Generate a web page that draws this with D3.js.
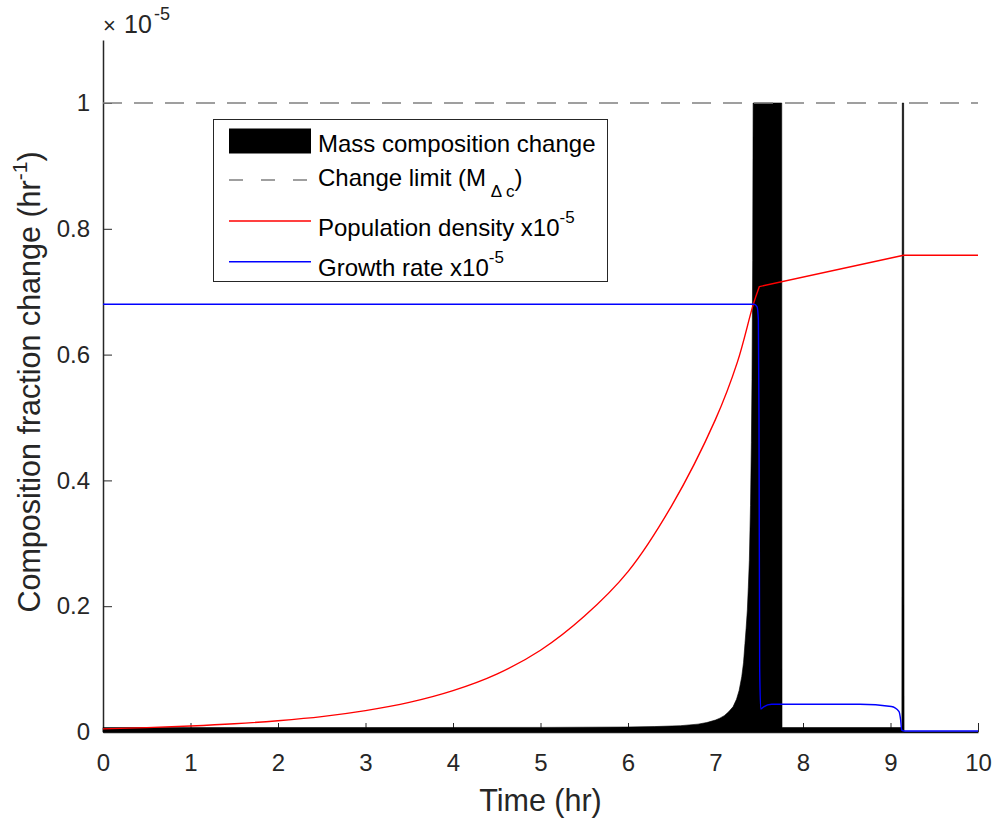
<!DOCTYPE html>
<html>
<head>
<meta charset="utf-8">
<script src="https://cdn.jsdelivr.net/npm/d3@7"></script>
<style>
  html, body { margin: 0; padding: 0; background: #fff; }
  svg { display: block; }
  text { font-family: "Liberation Sans", Arial, Helvetica, sans-serif; }
</style>
</head>
<body>
<svg id="chart" width="993" height="819"></svg>
<script>
// ---------- data (y values in units of 1e-5) ----------
const timeTicks = [0, 1, 2, 3, 4, 5, 6, 7, 8, 9, 10];
const yTicks = [0, 0.2, 0.4, 0.6, 0.8, 1];
const yTickLabels = ["0", "0.2", "0.4", "0.6", "0.8", "1"];

// Mass composition change (area)
const massT = [0, 1, 2, 3, 4, 5, 6, 6.3, 6.6, 6.8, 6.9, 7.0, 7.05, 7.1, 7.15, 7.2, 7.24, 7.27, 7.30, 7.32, 7.337, 7.35, 7.364, 7.375, 7.387, 7.40, 7.41, 7.417, 7.425, 7.43, 7.757, 7.76, 9.13, 9.135, 9.15, 9.155, 10];
const massV = [0.0070, 0.0070, 0.0071, 0.0071, 0.0072, 0.0073, 0.0079, 0.0086, 0.0100, 0.0125, 0.015, 0.019, 0.022, 0.026, 0.032, 0.040, 0.052, 0.066, 0.088, 0.110, 0.141, 0.165, 0.194, 0.230, 0.273, 0.36, 0.46, 0.56, 0.75, 1.0, 1.0, 0.0071, 0.0071, 1.0, 1.0, 0, 0];

// Change limit
const limitT = [0, 10];
const limitV = [1, 1];

// Population density x1e-5 (exponential phase, then linear phase)
const popT = [0, 0.5, 1, 1.5, 2, 2.5, 3, 3.5, 4, 4.5, 5, 5.5, 6, 6.5, 7, 7.25, 7.43, 7.50, 9.15, 10];
const popV = [0.0050, 0.0070, 0.0095, 0.0130, 0.0180, 0.0245, 0.034, 0.047, 0.0657, 0.092, 0.130, 0.184, 0.255, 0.360, 0.497, 0.588, 0.679, 0.708, 0.758, 0.758];
const popKnee = 7.50;

// Growth rate x1e-5
const growthT = [0, 7.44, 7.475, 7.49, 7.497, 7.505, 7.517, 7.55, 7.642, 8.65, 9.01, 9.097, 9.115, 9.128, 9.16, 10];
const growthV = [0.680, 0.680, 0.676, 0.655, 0.50, 0.10, 0.0366, 0.040, 0.044, 0.044, 0.0405, 0.0326, 0.020, 0.003, 0.0015, 0.0015];

const legendLabels = ["Mass composition change", "Change limit (M", "Population density x10", "Growth rate x10"];

// ---------- layout ----------
const svg = d3.select("#chart");
const x = d3.scaleLinear().domain([0, 10]).range([103, 978]);
const y = d3.scaleLinear().domain([0, 1.1]).range([732, 40.1]);
const axisColor = "#262626";
const font = '"Liberation Sans", Arial, Helvetica, sans-serif';

svg.append("defs").append("clipPath").attr("id", "plotclip")
  .append("rect").attr("x", x(0) - 1).attr("y", y(1.1)).attr("width", x(10) - x(0) + 2).attr("height", y(0) - y(1.1) + 1.5);

const zip = (ts, vs) => ts.map((t, i) => [t, vs[i]]);

// ---------- axes (drawn beneath data) ----------
const xAxis = svg.append("g")
  .attr("transform", `translate(0,${y(0)})`)
  .call(d3.axisBottom(x).tickValues(timeTicks).tickFormat(d3.format("d"))
    .tickSizeInner(-9).tickSizeOuter(0).tickPadding(22));
const yAxis = svg.append("g")
  .attr("transform", `translate(${x(0)},0)`)
  .call(d3.axisLeft(y).tickValues(yTicks).tickFormat((d, i) => yTickLabels[i])
    .tickSizeInner(-9).tickSizeOuter(0).tickPadding(13));

[xAxis, yAxis].forEach(g => {
  g.attr("font-family", font).attr("font-size", 24);
  g.select(".domain").attr("stroke", axisColor).attr("stroke-width", 1.5);
  g.selectAll(".tick line").attr("stroke", axisColor).attr("stroke-width", 1);
  g.selectAll(".tick text").attr("fill", axisColor);
});

const plot = svg.append("g").attr("clip-path", "url(#plotclip)");

// area
plot.append("path")
  .datum(zip(massT, massV))
  .attr("fill", "#000")
  .attr("stroke", "#000")
  .attr("stroke-width", 0.6)
  .attr("d", d3.area().x(d => x(d[0])).y0(y(0)).y1(d => y(d[1])));

// limit line
plot.append("path")
  .datum(zip(limitT, limitV))
  .attr("fill", "none")
  .attr("stroke", "#808080")
  .attr("stroke-width", 1.5)
  .attr("stroke-dasharray", "19,12")
  .attr("d", d3.line().x(d => x(d[0])).y(d => y(d[1])));

// population density: smooth growth phase + straight phase
const popData = zip(popT, popV);
const smoothPart = d3.line().x(d => x(d[0])).y(d => y(d[1])).curve(d3.curveCatmullRom.alpha(0.5))(popData.filter(d => d[0] <= popKnee));
const straightPart = d3.line().x(d => x(d[0])).y(d => y(d[1]))(popData.filter(d => d[0] >= popKnee));
plot.append("path")
  .attr("fill", "none").attr("stroke", "#ff0000").attr("stroke-width", 1.4)
  .attr("stroke-linejoin", "round")
  .attr("d", smoothPart + straightPart.replace(/^M/, "L"));

// growth rate
plot.append("path")
  .datum(zip(growthT, growthV))
  .attr("fill", "none")
  .attr("stroke", "#0000ff")
  .attr("stroke-width", 1.4)
  .attr("d", d3.line().x(d => x(d[0])).y(d => y(d[1])).curve(d3.curveMonotoneX));

// exponent
const expT = svg.append("text").attr("y", 33).attr("fill", axisColor).attr("font-size", 25);
expT.append("tspan").attr("x", 103).attr("font-size", 22).text("×");
expT.append("tspan").attr("x", 124).text("10");
expT.append("tspan").attr("x", 154).attr("dy", -13).attr("font-size", 18).text("-5");

// axis labels
svg.append("text")
  .attr("x", (x(0) + x(10)) / 2).attr("y", 811)
  .attr("text-anchor", "middle").attr("font-size", 30.5).attr("fill", axisColor)
  .text("Time (hr)");

const yl = svg.append("text")
  .attr("transform", `translate(40,382) rotate(-90)`)
  .attr("text-anchor", "middle").attr("font-size", 30.5).attr("fill", axisColor);
yl.append("tspan").text("Composition fraction change (hr");
yl.append("tspan").attr("dy", -13).attr("font-size", 21).text("-1");
yl.append("tspan").attr("dy", 13).text(")");

// ---------- legend ----------
const lg = svg.append("g");
lg.append("rect").attr("x", 213.5).attr("y", 119.5).attr("width", 394).attr("height", 162)
  .attr("fill", "#fff").attr("stroke", axisColor).attr("stroke-width", 1);
const lx0 = 229, lx1 = 311, tx = 318;
const rowY = [141, 180, 221, 261.7];
const baseY = [151.7, 186, 236, 275.7];

lg.append("rect").attr("x", lx0).attr("y", rowY[0] - 12.5).attr("width", lx1 - lx0).attr("height", 25).attr("fill", "#000");
lg.append("line").attr("x1", lx0).attr("x2", lx1).attr("y1", rowY[1]).attr("y2", rowY[1])
  .attr("stroke", "#808080").attr("stroke-width", 1.5).attr("stroke-dasharray", "14,18");
lg.append("line").attr("x1", lx0).attr("x2", lx1).attr("y1", rowY[2]).attr("y2", rowY[2])
  .attr("stroke", "#ff0000").attr("stroke-width", 1.4);
lg.append("line").attr("x1", lx0).attr("x2", lx1).attr("y1", rowY[3]).attr("y2", rowY[3])
  .attr("stroke", "#0000ff").attr("stroke-width", 1.4);

const lt = (i) => lg.append("text").attr("x", tx).attr("y", baseY[i]).attr("font-size", 24).attr("fill", "#000");
lt(0).text(legendLabels[0]);
const t1 = lt(1); t1.append("tspan").text(legendLabels[1]);
t1.append("tspan").attr("dy", 11).attr("font-size", 17).text(" Δ c");
t1.append("tspan").attr("dy", -11).text(")");
const t2 = lt(2); t2.append("tspan").text(legendLabels[2]);
t2.append("tspan").attr("dy", -13).attr("font-size", 17).text("-5");
const t3 = lt(3); t3.append("tspan").text(legendLabels[3]);
t3.append("tspan").attr("dy", -13).attr("font-size", 17).text("-5");
</script>
</body>
</html>
